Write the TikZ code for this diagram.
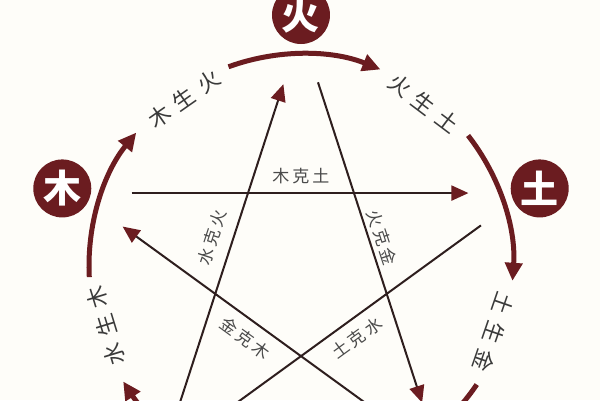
\documentclass[tikz,border=0pt]{standalone}
\usepackage{fontspec}
\newfontfamily\cjk{Noto Sans CJK SC}
\usetikzlibrary{arrows.meta}
\definecolor{maroon}{HTML}{6B1C20}
\definecolor{starline}{HTML}{2E1E1E}
\definecolor{labelgray}{HTML}{3A3A3A}
\definecolor{kegray}{HTML}{4A4A4A}
\definecolor{bg}{HTML}{FEFDF9}
\begin{document}
\begin{tikzpicture}[x=1pt,y=1pt,
  elem/.style={circle, fill=maroon, minimum size=58pt, inner sep=0pt, text=white, font=\cjk\bfseries\fontsize{38}{38}\selectfont},
  shengarc/.style={draw=maroon, line width=5pt, -{Triangle[length=18pt,width=17pt]}},
  kearrow/.style={draw=starline, line width=2pt, -{Triangle[length=17pt,width=15pt,color=maroon]}, shorten <=55pt, shorten >=57pt},
  shenglabel/.style={font=\cjk\fontsize{22}{22}\selectfont, text=labelgray, inner sep=0pt},
  kelabel/.style={font=\cjk\fontsize{17}{17}\selectfont, text=kegray, inner sep=0pt}]
\fill[bg] (-301,-134) rectangle (299,266);
\useasboundingbox (-301,-134) rectangle (299,266);

% element circles
\node[elem] (huo) at (90:251) {火};
\node[elem] (mu) at (162:251) {木};
\node[elem] (tu) at (18:251) {土};

% sheng arcs
\coordinate (aHuo) at (110:212);
\coordinate (aMu) at (183:212);
\coordinate (aTu) at (38:212);
\coordinate (aShui) at (254:212);
\coordinate (aJin) at (326:212);
\draw[shengarc] (aHuo) arc[start angle=110, end angle=68, radius=212];
\draw[shengarc] (aMu) arc[start angle=183, end angle=141, radius=212];
\draw[shengarc] (aTu) arc[start angle=38, end angle=-4, radius=212];
\draw[shengarc] (aShui) arc[start angle=254, end angle=213, radius=212];
\draw[shengarc] (aJin) arc[start angle=326, end angle=284, radius=212];

% sheng labels
\node[shenglabel, rotate=35] (lMH) at (125:204) {木\hspace{8pt}生\hspace{8pt}火};
\node[shenglabel, rotate=-37] (lHT) at (53:204) {火\hspace{8pt}生\hspace{8pt}土};
\node[shenglabel, rotate=-109] (lTJ) at (-19:204) {土\hspace{8pt}生\hspace{8pt}金};
\node[shenglabel, rotate=107] (lSM) at (197:204) {水\hspace{8pt}生\hspace{8pt}木};

% star vertices
\coordinate (vH) at (90:236);
\coordinate (vT) at (18:236);
\coordinate (vJ) at (306:236);
\coordinate (vS) at (234:236);
\coordinate (vM) at (162:236);
\draw[kearrow] (vM) -- (vT);
\draw[kearrow] (vH) -- (vJ);
\draw[kearrow] (vT) -- (vS);
\draw[kearrow] (vS) -- (vH);
\draw[kearrow] (vJ) -- (vM);

% ke labels
\node[kelabel] (kMT) at (0,90) {木\hspace{3pt}克\hspace{3pt}土};
\node[kelabel, rotate=72] (kSH) at (-89,29) {水\hspace{3pt}克\hspace{3pt}火};
\node[kelabel, rotate=-72] (kHJ) at (81,28) {火\hspace{3pt}克\hspace{3pt}金};
\node[kelabel, rotate=-36] (kJM) at (-56,-72) {金\hspace{3pt}克\hspace{3pt}木};
\node[kelabel, rotate=36] (kTS) at (56,-72) {土\hspace{3pt}克\hspace{3pt}水};
\end{tikzpicture}
\end{document}
